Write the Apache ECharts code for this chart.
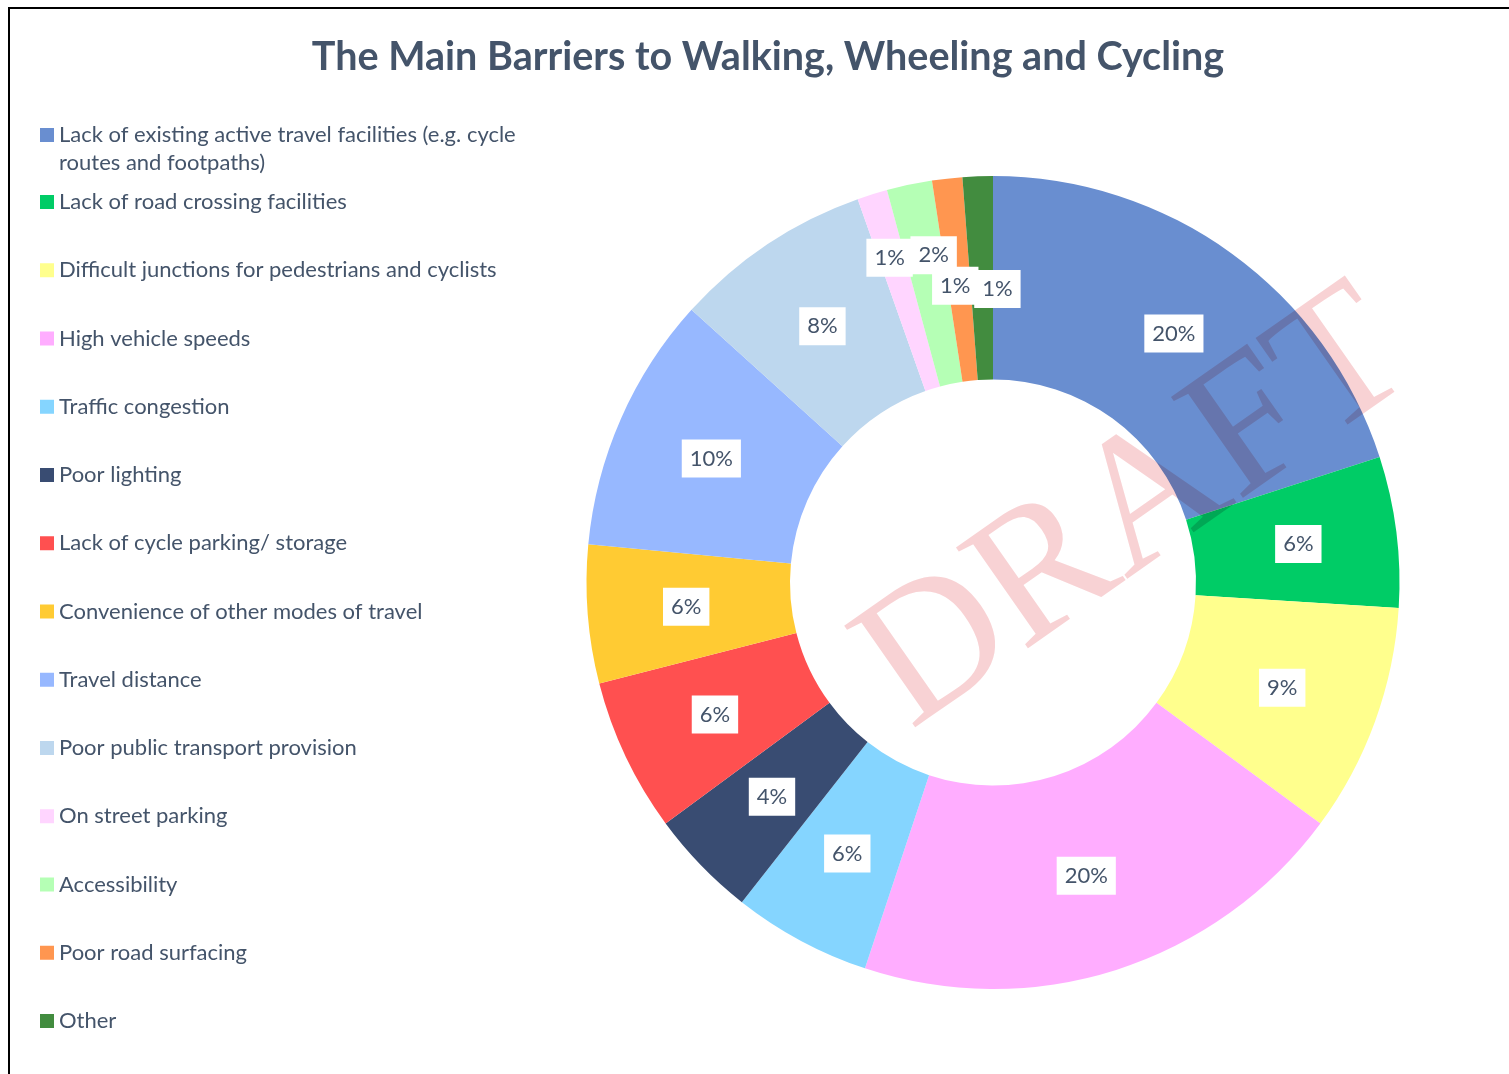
<!DOCTYPE html>
<html>
<head>
<meta charset="utf-8">
<script src="https://cdn.jsdelivr.net/npm/echarts@6/dist/echarts.min.js"></script>
<style>
html,body{margin:0;padding:0;background:#ffffff;}
#chart{width:1509px;height:1074px;}
/* the watermark lives on its own zlevel canvas and is multiplied onto the chart */
#chart canvas[data-zr-dom-id="zr_1"]{mix-blend-mode:multiply;}
</style>
</head>
<body>
<div id="chart"></div>
<script>
const titleText = 'The Main Barriers to Walking, Wheeling and Cycling';
const categories = [
  'Lack of existing active travel facilities (e.g. cycle routes and footpaths)',
  'Lack of road crossing facilities',
  'Difficult junctions for pedestrians and cyclists',
  'High vehicle speeds',
  'Traffic congestion',
  'Poor lighting',
  'Lack of cycle parking/ storage',
  'Convenience of other modes of travel',
  'Travel distance',
  'Poor public transport provision',
  'On street parking',
  'Accessibility',
  'Poor road surfacing',
  'Other'
];
// share of respondents (%)
const values = [20.0, 6.0, 9.1, 20.0, 5.5, 4.3, 6.1, 5.5, 10.2, 7.9, 1.2, 1.8, 1.2, 1.2];
const colors = [
  '#698ED0', '#00CC66', '#FFFF8D', '#FFADFF', '#85D5FF', '#394C72', '#FF5050',
  '#FFCB33', '#97B8FF', '#BDD7EE', '#FFD5FF', '#B5FFB5', '#FF9650', '#428C3F'
];
const watermarkText = 'DRAFT';

// label nudges for the crowded small slices (style only)
const labelNudge = {10: [-12, -31], 11: [4, -26], 12: [-3, 9], 13: [16, 14]};

const FONT = 'Lato';
const TEXT_COLOR = '#44546A';

const chart = echarts.init(document.getElementById('chart'), null, {renderer: 'canvas'});

const pieData = categories.map((c, i) => ({name: c, value: values[i], itemStyle: {color: colors[i]}}));

// first legend entry wraps onto two lines; a blank leading line keeps the marker beside line one
const wrapFirst = n => {
  const k = n.indexOf(' routes');
  return k > 0 ? ' \n' + n.slice(0, k) + '\n' + n.slice(k + 1) : n;
};

const option = {
  backgroundColor: '#ffffff',
  animation: false,
  title: {
    text: titleText,
    left: 768,
    top: 37,
    textAlign: 'center',
    padding: 0,
    textStyle: {fontFamily: FONT, fontSize: 39.5, fontWeight: 'bold', color: TEXT_COLOR}
  },
  legend: [
    {
      data: [categories[0]],
      orient: 'vertical',
      left: 40,
      top: 93,
      padding: 0,
      itemWidth: 14,
      itemHeight: 14,
      icon: 'rect',
      selectedMode: false,
      formatter: wrapFirst,
      textStyle: {fontFamily: FONT, fontSize: 22, lineHeight: 28, color: TEXT_COLOR}
    },
    {
      data: categories.slice(1),
      orient: 'vertical',
      left: 40,
      top: 190,
      padding: 0,
      itemGap: 44.25,
      itemWidth: 14,
      itemHeight: 14,
      icon: 'rect',
      selectedMode: false,
      textStyle: {fontFamily: FONT, fontSize: 22, lineHeight: 24, color: TEXT_COLOR}
    }
  ],
  series: [{
    type: 'pie',
    center: [993, 582.5],
    radius: [203, 406.5],
    startAngle: 90,
    clockwise: true,
    avoidLabelOverlap: false,
    silent: true,
    data: pieData,
    itemStyle: {borderWidth: 0},
    label: {
      show: true,
      position: 'inside',
      formatter: p => Math.round(p.value) + '%',
      fontFamily: FONT,
      fontSize: 22,
      lineHeight: 22,
      color: TEXT_COLOR,
      backgroundColor: '#ffffff',
      padding: [8, 8]
    },
    labelLine: {show: false},
    labelLayout: function (params) {
      const n = labelNudge[params.dataIndex];
      if (n) return {dx: n[0], dy: n[1]};
      return {};
    }
  }],
  graphic: [
    {
      type: 'rect',
      z: 0,
      silent: true,
      shape: {x: 9, y: 8, width: 2000, height: 2000},
      style: {fill: 'none', stroke: '#000000', lineWidth: 2}
    },
    {
      type: 'text',
      zlevel: 1,
      z: 100,
      silent: true,
      x: 1136,
      y: 512,
      rotation: 35 * Math.PI / 180,
      style: {
        text: watermarkText,
        font: '189px "Liberation Serif"',
        fill: '#F8D2D4',
        align: 'center',
        verticalAlign: 'middle'
      }
    }
  ]
};
chart.setOption(option);
</script>
</body>
</html>
